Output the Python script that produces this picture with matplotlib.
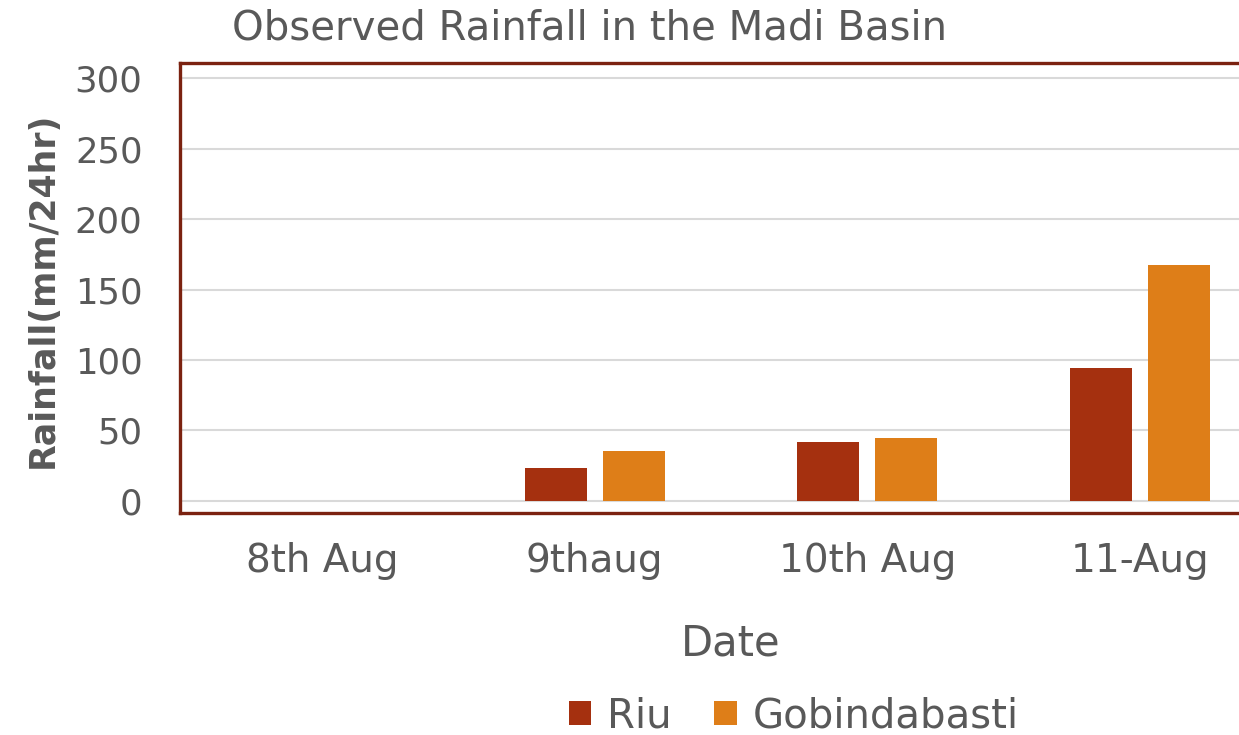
import matplotlib
matplotlib.use("Agg")
import matplotlib.pyplot as plt
import numpy as np

categories = ["8th Aug", "9thaug", "10th Aug", "11-Aug"]
riu = [0, 23.3, 41.8, 94.5]
gobindabasti = [0, 35.3, 44.7, 167.4]
yticks = [0, 50, 100, 150, 200, 250, 300]

W, H = 1239, 735
fig = plt.figure(figsize=(W/100, H/100), dpi=100)
plt.rcParams['font.family'] = ['DejaVu Sans']
gray = '#595959'
border = '#7B2210'

ax = fig.add_axes([180/W, 1 - 513/H, (1282-180)/W, (513-63)/H])
x = np.arange(len(categories))
bw = 0.227
off = 0.143
ax.bar(x - off, riu, bw, color='#A5300F', label='Riu', zorder=3)
ax.bar(x + off, gobindabasti, bw, color='#DE7E18', label='Gobindabasti', zorder=3)

ax.set_xlim(-0.52, 3.52)
ax.set_ylim(-8.7, 311)
ax.set_yticks(yticks)
ax.set_yticklabels([str(v) for v in yticks])
ax.set_xticks(x)
ax.set_xticklabels(categories)
ax.yaxis.grid(True, color='#D9D9D9', linewidth=1.5, zorder=0)
ax.set_axisbelow(True)
ax.tick_params(axis='both', length=0, colors=gray)
ax.tick_params(axis='y', labelsize=25.5, pad=27)
ax.tick_params(axis='x', labelsize=28, pad=21)
for s in ax.spines.values():
    s.set_color(border)
    s.set_linewidth(2.4)

fig.text(590/W, 1 - 28/H, "Observed Rainfall in the Madi Basin", ha='center', va='center',
         fontsize=29, color=gray)
fig.text(43/W, 1 - 290/H, "Rainfall(mm/24hr)", ha='center', va='center', rotation=90,
         fontsize=25, fontweight='bold', color=gray)
fig.text(731/W, 1 - 643/H, "Date", ha='center', va='center', fontsize=30, color=gray)

leg = fig.legend(loc='center', bbox_to_anchor=(794/W, 1 - 716/H), ncol=2, frameon=False,
                 fontsize=29, handlelength=0.55, handleheight=0.55, handletextpad=0.4,
                 columnspacing=1.05, labelcolor=gray)

fig.savefig("out.png", dpi=100)
